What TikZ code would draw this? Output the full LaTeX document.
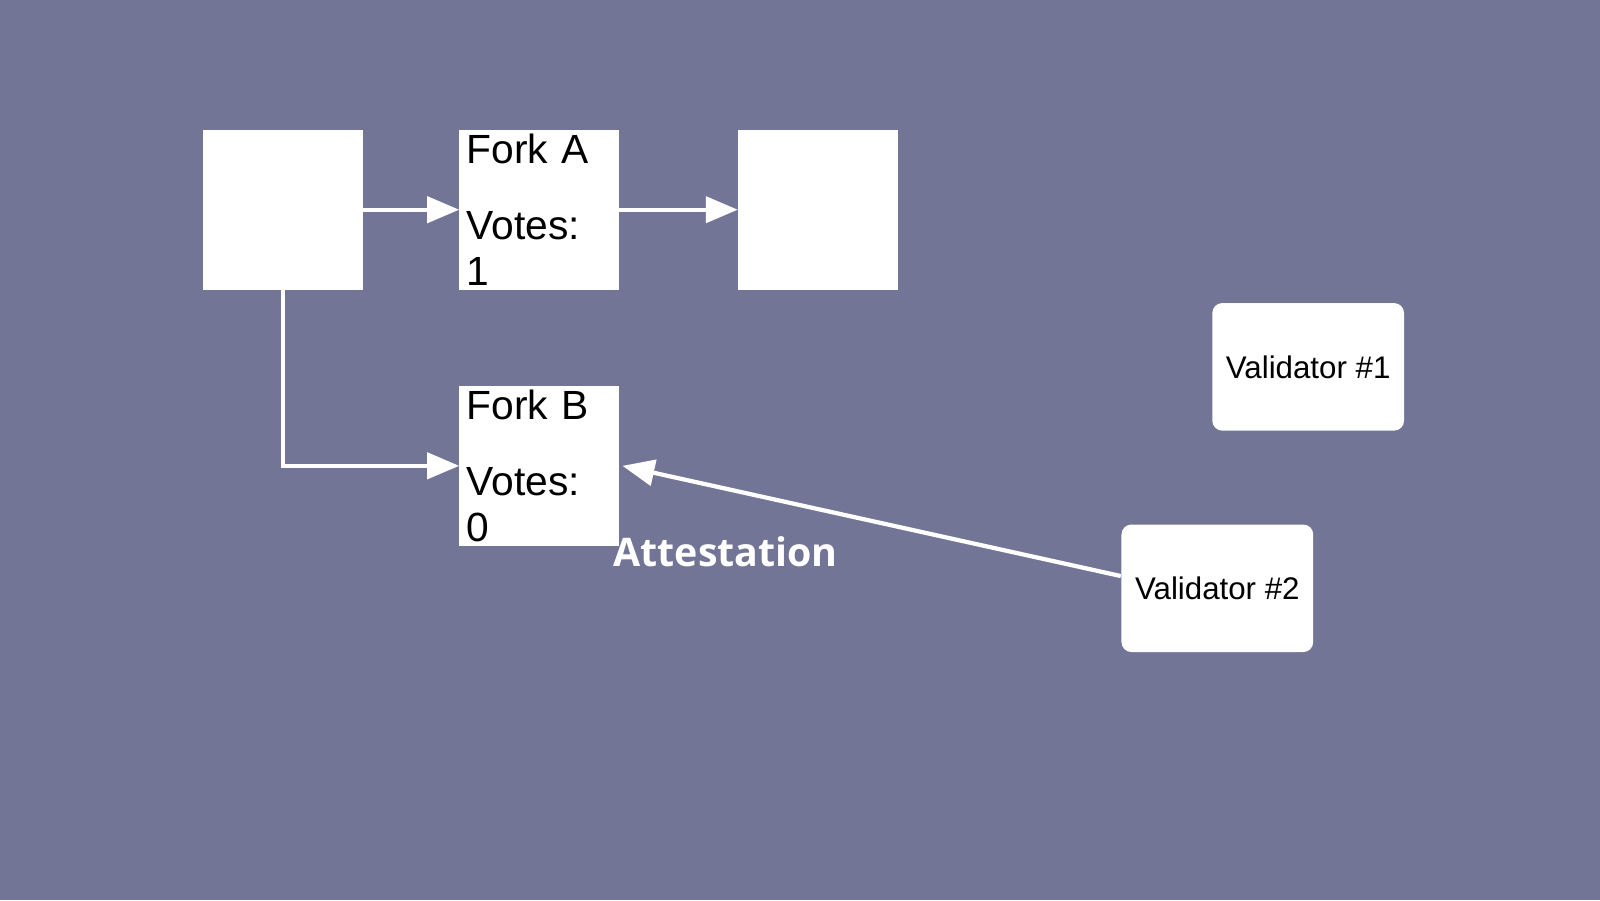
\documentclass[tikz,border=0pt]{standalone}
\usepackage{fontspec}
\setmainfont{Liberation Sans}
\newfontfamily\labelfont{Open Sans}
\definecolor{SlateBg}{RGB}{115, 117, 150}
\usetikzlibrary{arrows.meta, positioning, calc}

\begin{document}
\begin{tikzpicture}[
            x=0.010204cm, y=-0.010204cm,
            block/.style={rectangle, fill=white, minimum width=1.602cm, minimum height=1.602cm,
                          inner sep=0pt, outer sep=0pt},
            fork/.style={block, text width=1.45cm, align=left, font=\fontsize{11.6}{13}\selectfont},
            validator/.style={rectangle, rounded corners=0.1cm, fill=white, minimum width=1.918cm,
                              minimum height=1.276cm, inner sep=0pt, font=\fontsize{8.9}{10}\selectfont},
            arrow/.style={-{Triangle[length=0.32cm, width=0.26cm]}, line width=1.2pt, white}
        ]
            \fill[SlateBg] (0,0) rectangle (1568,882);
            \useasboundingbox (0,0) rectangle (1568,882);

            \node[block] (genesis) at (277.5,205.5) {};
            \node[fork] (forka) at (528.5,205.5) {Fork A\\[0.3cm]Votes: 1};
            \node[block] (child) at (801.5,205.5) {};
            \node[fork] (forkb) at (528.5,456.5) {Fork B\\[0.3cm]Votes: 0};
            \node[validator] (val1) at (1282,359.5) {Validator \#1};
            \node[validator] (val2) at (1193,576.5) {Validator \#2};

            \draw[arrow] (genesis) -- (forka);
            \draw[arrow] (forka) -- (child);
            \draw[arrow] (genesis.south) |- (forkb.west);
            \draw[arrow] ($(val2.west)+(0,-12)$) -- node[below left=0.02cm and 0.2cm, text=white,
                font=\labelfont\bfseries\fontsize{11.2}{13}\selectfont] (attest) {Attestation}
                ($(forkb.east)+(3,0)$);
        \end{tikzpicture}
\end{document}
